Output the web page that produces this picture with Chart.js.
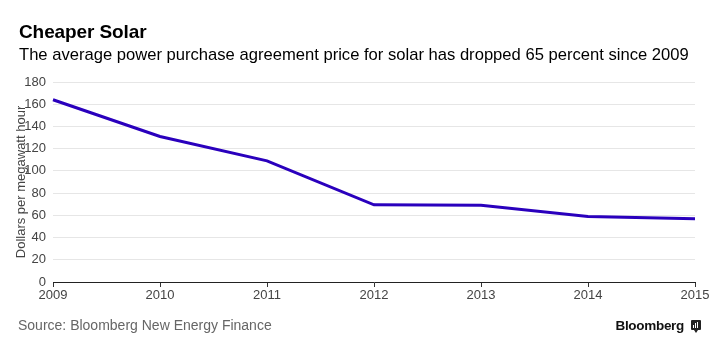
<!DOCTYPE html>
<html><head><meta charset="utf-8">
<script src="https://cdn.jsdelivr.net/npm/chart.js@4"></script>
<style>
html,body{margin:0;padding:0;background:#fff;width:720px;height:352px;overflow:hidden;font-family:"Liberation Sans",Arial,sans-serif;}
#wrap{position:relative;width:720px;height:352px;}
canvas{position:absolute;left:0;top:0;}
.t{position:absolute;white-space:nowrap;}
#title{left:19px;top:21px;font-size:19px;font-weight:bold;color:#000;letter-spacing:-0.1px;}
#sub{left:19px;top:45px;font-size:16.6px;color:#000;}
#src{left:18px;top:317px;font-size:14px;color:#666;}
#logo{right:36px;top:318px;font-size:13.5px;font-weight:bold;color:#111;letter-spacing:-0.3px;}
#icon{position:absolute;left:691px;top:320px;width:10px;height:10px;background:#222;border-radius:1px;}
#icon i{position:absolute;bottom:2px;width:1px;background:#fff;}
#icon:after{content:"";position:absolute;left:3px;bottom:-3px;border-left:2px solid transparent;border-right:2px solid transparent;border-top:3px solid #222;}
</style></head>
<body><div id="wrap">
<canvas id="c" width="720" height="352"></canvas>
<div class="t" id="title">Cheaper Solar</div>
<div class="t" id="sub">The average power purchase agreement price for solar has dropped 65 percent since 2009</div>
<div class="t" id="src">Source: Bloomberg New Energy Finance</div>
<div class="t" id="logo">Bloomberg</div>
<div id="icon"><i style="left:2px;height:3px"></i><i style="left:4px;height:5px"></i><i style="left:6px;height:6px"></i></div>
</div>
<script>
const years = ["2009","2010","2011","2012","2013","2014","2015"];
const prices = [164, 131, 109, 69.5, 69, 59, 57];
const yTicks = [0,20,40,60,80,100,120,140,160,180];

new Chart(document.getElementById('c'), {
  type: 'line',
  data: { labels: years, datasets: [{ data: prices, borderColor: '#2a00bd', borderWidth: 3, pointRadius: 0, tension: 0, fill: false }] },
  options: {
    responsive: false, animation: false,
    layout: { padding: { top: 82, right: 25, bottom: 50, left: 0 } },
    plugins: { legend: { display: false }, tooltip: { enabled: false } },
    scales: {
      x: {
        offset: false,
        grid: { display: true, drawOnChartArea: false, drawTicks: true, tickLength: 5, color: '#333' },
        border: { display: true, color: '#222', width: 1 },
        ticks: { color: '#444', font: { family: 'Liberation Sans', size: 13 }, padding: 1, maxRotation: 0 },
        afterFit: s => { s.height = 20; }
      },
      y: {
        min: 0, max: 180,
        afterBuildTicks: s => { s.ticks = yTicks.map(v => ({ value: v })); },
        grid: { color: '#e6e6e6', drawTicks: false },
        border: { display: false },
        ticks: { color: '#444', font: { family: 'Liberation Sans', size: 13 }, padding: 7 },
        title: { display: true, text: 'Dollars per megawatt hour', color: '#444', font: { family: 'Liberation Sans', size: 13 }, padding: { top: 14, bottom: 0 } },
        afterFit: s => { s.width = 53; }
      }
    }
  }
});
</script>
</body></html>
